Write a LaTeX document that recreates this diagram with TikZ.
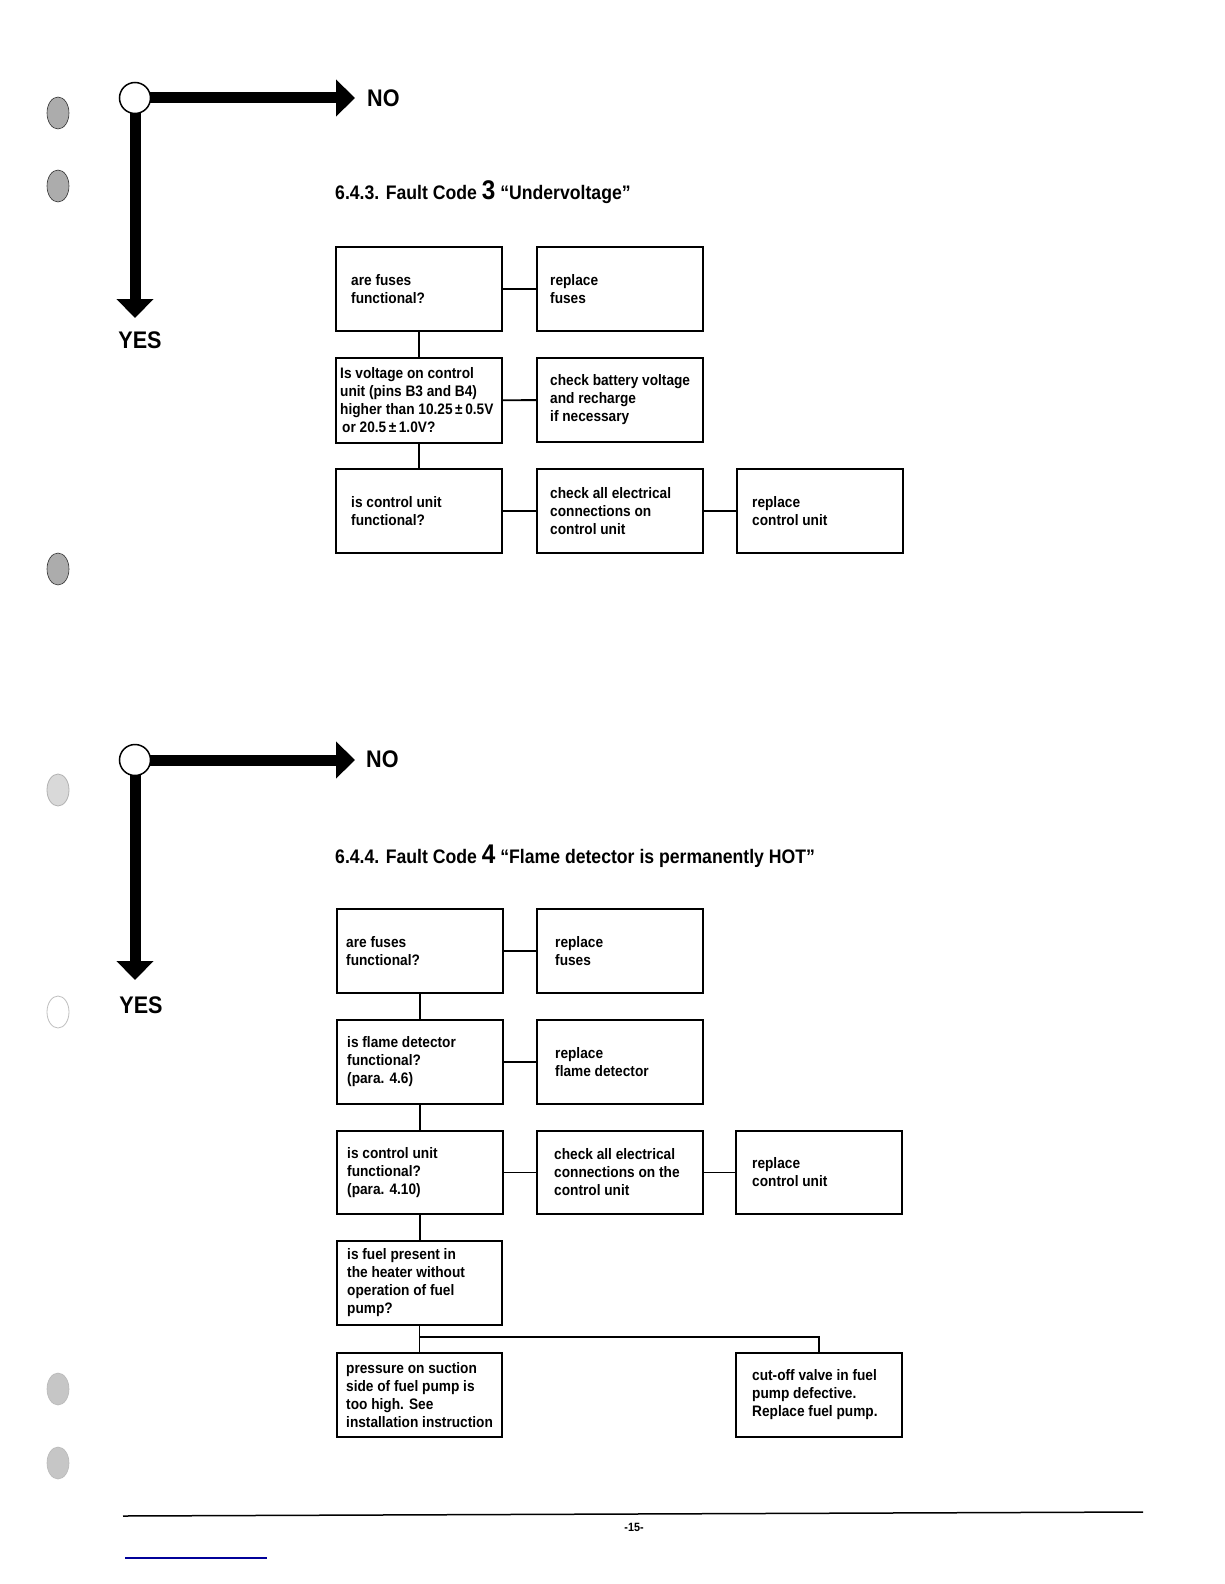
\documentclass[tikz,border=0pt]{standalone}
\usepackage{fontspec}
\setmainfont{Liberation Sans}[FakeStretch=0.9]
\usetikzlibrary{arrows.meta}
\begin{document}
\begin{tikzpicture}[x=1pt,y=-1pt,
  box/.style={draw, line width=1.8pt, minimum width=166pt, minimum height=84pt, inner sep=0pt, anchor=north west},
  txt/.style={anchor=west, align=left, inner sep=0pt, font=\bfseries\fontsize{15.2}{18}\selectfont},
  conn/.style={line width=1.8pt},
  bar/.style={line width=11pt, -{Triangle[length=19pt,width=36pt]}},
  circ/.style={circle, draw, fill=white, line width=1.5pt, minimum size=31pt, inner sep=0pt},
  bigtxt/.style={inner sep=0pt, font=\bfseries\fontsize{24}{24}\selectfont},
  ttl/.style={anchor=base west, inner sep=0pt, font=\bfseries\fontsize{19.6}{22}\selectfont},
  hole/.style={fill=gray!65, draw=gray!40!black, line width=0.6pt},
]
\useasboundingbox (0,0) rectangle (1224,1584);
\fill[white] (0,0) rectangle (1224,1584);

% punch holes
\path[hole] (58,113) ellipse [x radius=11, y radius=16];
\path[hole] (58,186) ellipse [x radius=11, y radius=16];
\path[hole] (58,569) ellipse [x radius=11, y radius=16];
\path[fill=gray!30, draw=gray!60, line width=0.8pt] (58,790) ellipse [x radius=11, y radius=16];
\path[fill=white, draw=gray!50, line width=0.8pt] (58,1012) ellipse [x radius=11, y radius=16];
\path[fill=gray!45, draw=gray!55, line width=0.6pt] (58,1389) ellipse [x radius=11, y radius=16];
\path[fill=gray!45, draw=gray!55, line width=0.6pt] (58,1463) ellipse [x radius=11, y radius=16];

% ===== legend 1 =====
\coordinate (o1) at (135,98);
\coordinate (no1tip) at (355,98);
\coordinate (yes1tip) at (135,318);
\draw[bar] (o1) -- (no1tip);
\draw[bar] (o1) -- (yes1tip);
\node[circ] (c1) at (o1) {};
\node[bigtxt, anchor=west] (no1) at (367,98) {NO};
\node[bigtxt] (yes1) at (140,340) {YES};

% ===== section 6.4.3 =====
\node[ttl] (t1) at (335,199) {6.4.3. Fault Code {\fontsize{27}{27}\selectfont 3} “Undervoltage”};

\node[box] (a1) at (335,246) {};
\node[box] (b1) at (536,246) {};
\node[box, minimum height=85pt] (a2) at (335,357) {};
\node[box] (b2) at (536,357) {};
\node[box] (a3) at (335,468) {};
\node[box] (b3) at (536,468) {};
\node[box] (c3) at (736,468) {};

\node[txt] (a1t) at ([xshift=16]a1.west) {are fuses\\functional?};
\node[txt] (b1t) at ([xshift=14]b1.west) {replace\\fuses};
\node[txt] (a2t) at ([xshift=5]a2.west) {Is voltage on control\\unit (pins B3 and B4)\\higher than 10.25\,±\,0.5V\\\hspace{2pt}or 20.5\,±\,1.0V?};
\node[txt] (b2t) at ([xshift=14]b2.west) {check battery voltage\\and recharge\\if necessary};
\node[txt] (a3t) at ([xshift=16]a3.west) {is control unit\\functional?};
\node[txt] (b3t) at ([xshift=14]b3.west) {check all electrical\\connections on\\control unit};
\node[txt] (c3t) at ([xshift=16]c3.west) {replace\\control unit};

\draw[conn] (a1) -- (b1);
\draw[conn] (a2) -- (b2);
\draw[conn] (a3) -- (b3);
\draw[conn] (b3) -- (c3);
\draw[conn] (a1) -- (a2);
\draw[conn] (a2) -- (a3);

% ===== legend 2 =====
\coordinate (o2) at (135,760);
\coordinate (no2tip) at (355,760);
\coordinate (yes2tip) at (135,980);
\draw[bar] (o2) -- (no2tip);
\draw[bar] (o2) -- (yes2tip);
\node[circ] (c2) at (o2) {};
\node[bigtxt, anchor=west] (no2) at (366,759) {NO};
\node[bigtxt] (yes2) at (141,1005) {YES};

% ===== section 6.4.4 =====
\node[ttl] (t2) at (335,863) {6.4.4. Fault Code {\fontsize{27}{27}\selectfont 4} “Flame detector is permanently HOT”};

\node[box] (d1) at (336,908) {};
\node[box] (e1) at (536,908) {};
\node[box] (d2) at (336,1019) {};
\node[box] (e2) at (536,1019) {};
\node[box, minimum height=83pt] (d3) at (336,1130) {};
\node[box, minimum height=83pt] (e3) at (536,1130) {};
\node[box, minimum height=83pt] (f3) at (735,1130) {};
\node[box, minimum width=165pt] (d4) at (336,1240) {};
\node[box, minimum width=165pt] (d5) at (336,1352) {};
\node[box] (f5) at (735,1352) {};

\node[txt] (d1t) at ([xshift=10]d1.west) {are fuses\\functional?};
\node[txt] (e1t) at ([xshift=19]e1.west) {replace\\fuses};
\node[txt] (d2t) at ([xshift=11]d2.west) {is flame detector\\functional?\\(para. 4.6)};
\node[txt] (e2t) at ([xshift=19]e2.west) {replace\\flame detector};
\node[txt] (d3t) at ([xshift=11]d3.west) {is control unit\\functional?\\(para. 4.10)};
\node[txt] (e3t) at ([xshift=18]e3.west) {check all electrical\\connections on the\\control unit};
\node[txt] (f3t) at ([xshift=17]f3.west) {replace\\control unit};
\node[txt] (d4t) at ([xshift=11]d4.west) {is fuel present in\\the heater without\\operation of fuel\\pump?};
\node[txt] (d5t) at ([xshift=10]d5.west) {pressure on suction\\side of fuel pump is\\too high. See\\installation instruction};
\node[txt] (f5t) at ([xshift=17]f5.west) {cut-off valve in fuel\\pump defective.\\Replace fuel pump.};

\draw[conn] (d1) -- (e1);
\draw[conn] (d2) -- (e2);
\draw[conn] (d3) -- (e3);
\draw[conn] (e3) -- (f3);
\draw[conn] (d1) -- (d2);
\draw[conn] (d2) -- (d3);
\draw[conn] (d3.south) -- (d4.north -| d3.south);
\draw[conn] (d4) -- (d5);
\coordinate (br) at (d4.south |- 0,1337);
\draw[conn] (br) -| (f5);

% ===== footer =====
\draw[line width=1.5pt] (123,1516) -- (1143,1512);
\node[inner sep=0pt, font=\bfseries\fontsize{12}{12}\selectfont] (pg) at (634,1527) {-15-};
\draw[line width=1.5pt, blue!60!black] (125,1558) -- (267,1558);
\end{tikzpicture}
\end{document}
